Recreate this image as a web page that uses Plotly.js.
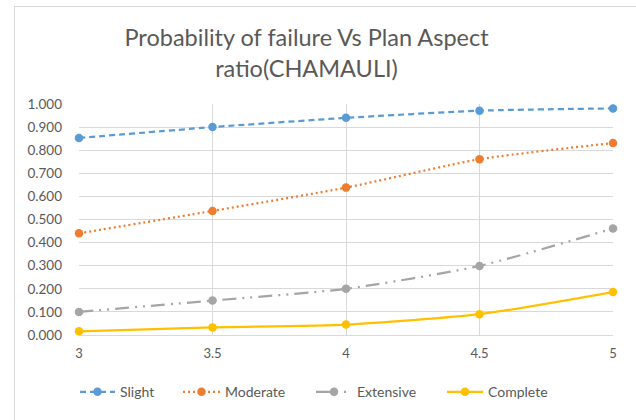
<!DOCTYPE html>
<html>
<head>
<meta charset="utf-8">
<script src="https://cdn.plot.ly/plotly-3.0.1.min.js"></script>
<style>
html,body{margin:0;padding:0;background:#fff;}
#wrap{position:relative;width:636px;height:420px;overflow:hidden;}
#chart{position:absolute;left:0;top:0;width:636px;height:420px;}
#frame{position:absolute;left:14px;top:6px;width:640px;height:430px;border-left:1px solid #d9d9d9;border-top:1px solid #d9d9d9;pointer-events:none;}
</style>
</head>
<body>
<div id="wrap"><div id="chart"></div><div id="frame"></div></div>
<script>
const aspectRatio = [3, 3.5, 4, 4.5, 5];
const slight    = [0.853, 0.900, 0.940, 0.971, 0.981];
const moderate  = [0.440, 0.537, 0.638, 0.761, 0.831];
const extensive = [0.100, 0.149, 0.200, 0.299, 0.461];
const complete  = [0.016, 0.033, 0.045, 0.090, 0.186];
const seriesNames = ['Slight', 'Moderate', 'Extensive', 'Complete'];
const xTicks = [3, 3.5, 4, 4.5, 5];
const yTicks = [0, 0.1, 0.2, 0.3, 0.4, 0.5, 0.6, 0.7, 0.8, 0.9, 1.0];

const colors = ['#5B9BD5', '#ED7D31', '#A5A5A5', '#FFC000'];
const dashes = ['6px,4px', '2px,3px', '14px,6px,2px,6px,2px,6px', 'solid'];
const values = [slight, moderate, extensive, complete];
const legendIds = ['legend', 'legend2', 'legend3', 'legend4'];
// legend box left edges (page px) and symbol area widths
const legendPx = [75, 178, 311, 442];
const legendItemW = [35, 37, 36, 36];

const traces = values.map((v, i) => ({
  x: aspectRatio,
  y: v,
  name: seriesNames[i],
  legend: legendIds[i],
  type: 'scatter',
  mode: 'lines+markers',
  line: {color: colors[i], width: 2.25, dash: dashes[i], shape: 'spline', smoothing: 0.6},
  marker: {color: colors[i], size: 8.5, symbol: 'circle'},
  cliponaxis: false
}));

const font = 'Lato, "Open Sans", "DejaVu Sans", sans-serif';
const plotL = 79, plotR = 23, plotT = 104, plotB = 82, W = 636, H = 420;
const plotW = W - plotL - plotR, plotH = H - plotT - plotB;

const layout = {
  width: W, height: H,
  paper_bgcolor: '#fff', plot_bgcolor: '#fff',
  margin: {l: plotL, r: plotR, t: plotT, b: plotB},
  font: {family: font, color: '#595959', size: 13},
  title: {
    text: 'Probability of failure Vs Plan Aspect<br>ratio(CHAMAULI)',
    font: {family: font, size: 23.5, color: '#595959'},
    x: 0.482, xanchor: 'center', y: 0.89, yanchor: 'top'
  },
  xaxis: {
    range: [3, 5], tickvals: xTicks, ticktext: xTicks.map(String),
    showgrid: true, gridcolor: '#d9d9d9', gridwidth: 1,
    showline: true, linecolor: '#d9d9d9', zeroline: false,
    ticks: '', ticklabelstandoff: 6,
    tickfont: {family: font, size: 13, color: '#595959'}
  },
  yaxis: {
    range: [0, 1], tickvals: yTicks, tickformat: '.3f',
    showgrid: true, gridcolor: '#d9d9d9', gridwidth: 1,
    showline: false, zeroline: true, zerolinecolor: '#d9d9d9',
    ticks: '', ticklabelstandoff: 16,
    tickfont: {family: font, size: 13.5, color: '#595959'}
  },
  showlegend: true
};

legendIds.forEach((id, i) => {
  layout[id] = {
    orientation: 'h',
    x: (legendPx[i] - plotL) / plotW, xanchor: 'left',
    y: (plotT + plotH - 396) / plotH, yanchor: 'middle',
    itemwidth: legendItemW[i],
    font: {family: font, size: 14, color: '#595959'},
    bgcolor: 'rgba(0,0,0,0)'
  };
});

Plotly.newPlot('chart', traces, layout, {displayModeBar: false, staticPlot: true});
</script>
</body>
</html>
